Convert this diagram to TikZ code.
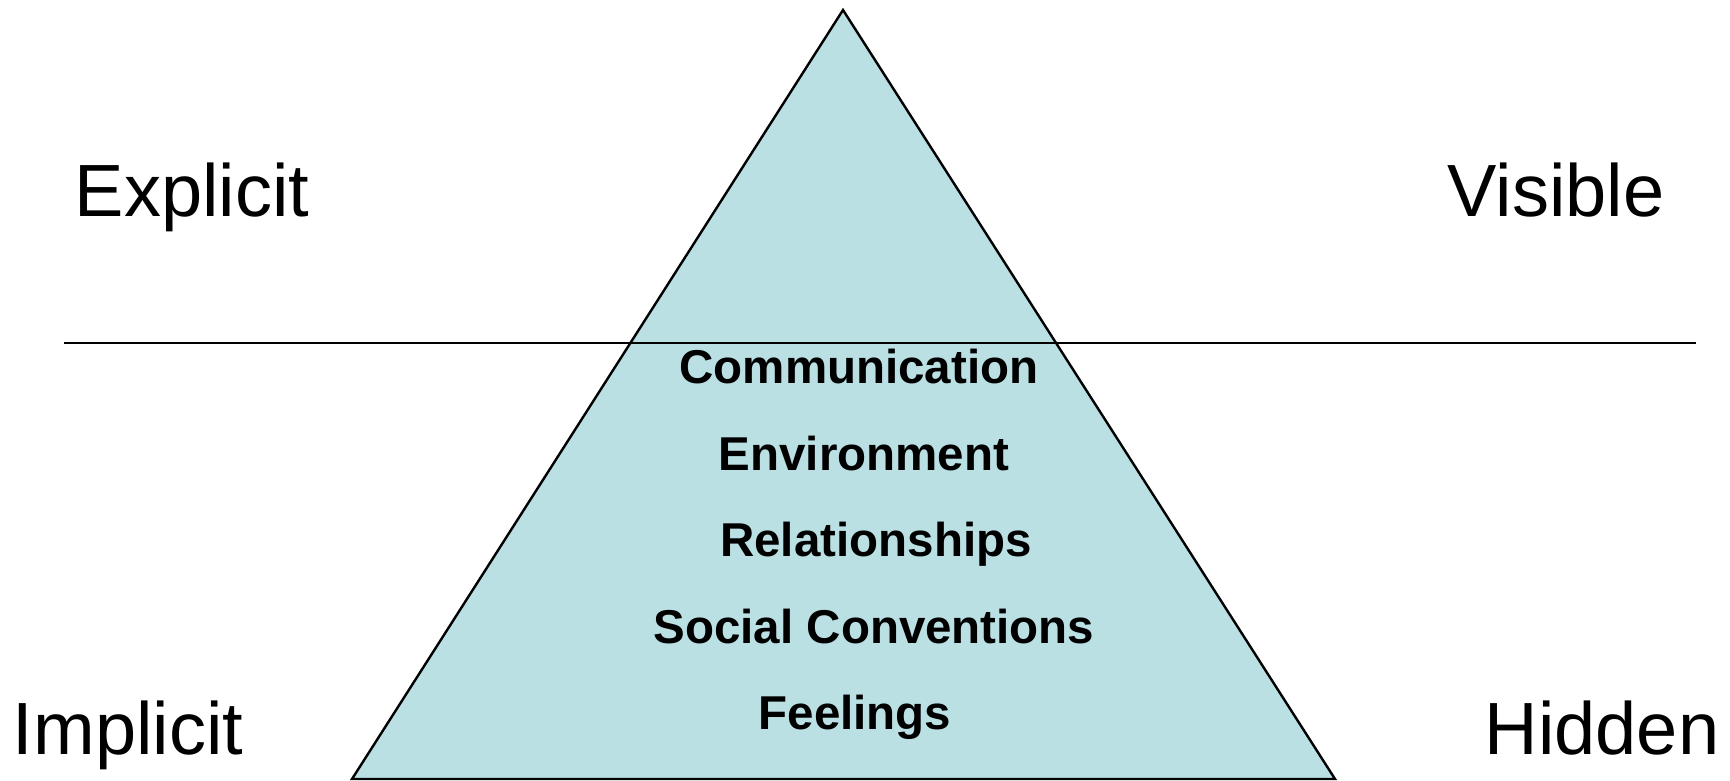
\documentclass[tikz,border=0pt]{standalone}
\usepackage{fontspec}
\setmainfont{Liberation Sans}
\definecolor{pyrfill}{RGB}{186,224,228}
\begin{document}
\begin{tikzpicture}[x=1pt,y=-1pt,
  side/.style={inner sep=0pt,anchor=base,font=\fontsize{74}{78}\selectfont},
  layer/.style={inner sep=0pt,anchor=base,font=\fontsize{47.5}{50}\selectfont\bfseries},
  edge/.style={line width=2.4pt,line join=miter}]
\useasboundingbox (0,0) rectangle (1730,781);
\coordinate (apex) at (843,10);
\coordinate (bl) at (352,779);
\coordinate (br) at (1335,779);
\coordinate (hl) at (64,343);
\coordinate (hr) at (1696,343);
\fill[pyrfill] (apex) -- (br) -- (bl) -- cycle;
\draw[edge] (apex) -- (br) -- (bl) -- cycle;
\draw[line width=2.4pt] (hl) -- (hr);
\node[side] (explicit) at (192,216) {Explicit};
\node[side] (visible) at (1556,216) {Visible};
\node[side] (implicit) at (128,754) {Implicit};
\node[side] (hidden) at (1602,754) {Hidden};
\node[layer] (comm) at (859,383) {Communication};
\node[layer] (env) at (864,470) {Environment};
\node[layer] (rel) at (876,556) {Relationships};
\node[layer] (soc) at (874,643) {Social Conventions};
\node[layer] (feel) at (855,729) {Feelings};
\end{tikzpicture}
\end{document}
